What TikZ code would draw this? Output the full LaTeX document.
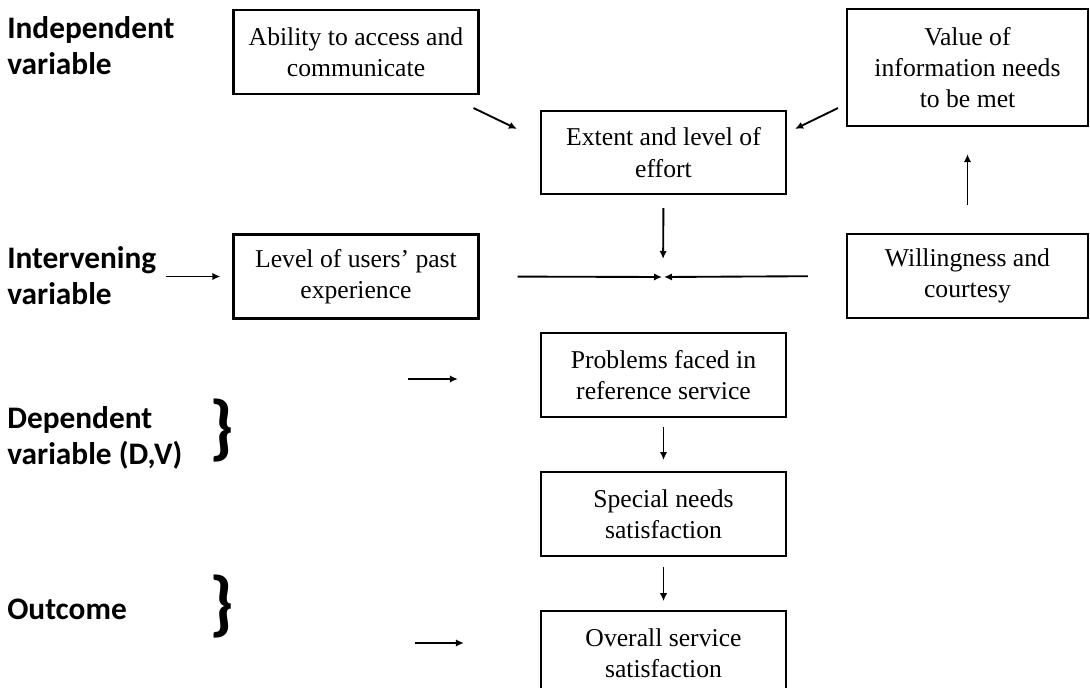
\documentclass[tikz,border=0pt]{standalone}
\usepackage{fontspec}
\setmainfont{Liberation Serif}
\newfontfamily\labelfont{Carlito}
\usetikzlibrary{arrows.meta, positioning, calc}

\begin{document}
\begin{tikzpicture}[
    x=0.75pt, y=-0.75pt,
    node distance=39.75pt,
    box/.style={
      rectangle,
      draw,
      line width=1.6pt,
      minimum width=183.75pt,
      minimum height=63pt,
      inner sep=2pt,
      align=center,
      font=\fontsize{19.25}{23.5}\selectfont
    },
    varlabel/.style={
      anchor=north west,
      inner sep=0pt,
      align=left,
      font=\labelfont\bfseries\fontsize{23.5}{27}\selectfont
    },
    bracket/.style={
      inner sep=0pt,
      font=\labelfont\bfseries\fontsize{54}{54}\selectfont
    },
    arrow/.style={
      -{Latex[length=6pt,width=5.5pt]},
      line width=1.4pt
    }
  ]
  \useasboundingbox (0,0) rectangle (1090,688);

  % Nodes
  \node[box] (ability) at (356,52) {Ability to access and\\communicate};
  \node[box, minimum height=62.25pt] (extent) at (663.5,152.5) {Extent and level of\\effort};
  \node[box, minimum width=180.75pt, minimum height=87.75pt] (value) at (967.5,67.5) {Value of\\information needs\\to be met};
  \node[box] (level) at (356,276.5) {Level of users' past\\experience};
  \node[box, minimum width=180.75pt] (willing) at (967.5,276) {Willingness and\\courtesy};
  \node[box] (problems) at (663.5,375) {Problems faced in\\reference service};
  \node[box, below=of problems] (special) {Special needs\\satisfaction};
  \node[box, below=of special] (overall) {Overall service\\satisfaction};
  \coordinate (meet) at (663,277);

  % Variable labels
  \node[varlabel] (indep) at (7,16) {Independent\\variable};
  \node[varlabel] (interv) at (7,246) {Intervening\\variable};
  \node[varlabel] (dep) at (7,406) {Dependent\\variable (D,V)};
  \node[varlabel] (outc) at (7,599) {Outcome};
  \node[bracket] (depbrace) at (222,431) {\}};
  \node[bracket] (outcbrace) at (222,607) {\}};
  \coordinate (dvarrow) at (408,379);
  \coordinate (ocarrow) at (415,643);

  % Arrows
  \draw[arrow] ([shift={(-6,13)}]ability.south east) -- ([shift={(-23,19)}]extent.north west);
  \draw[arrow] ([shift={(-8,-19)}]value.south west) -- ([shift={(8,19)}]extent.north east);
  \draw[arrow, shorten <=21pt, shorten >=20.25pt] (willing.north) -- (value.south);
  \draw[arrow, shorten <=9.75pt, shorten >=13.5pt] (extent.south) -- (meet);
  \draw[arrow, shorten <=28.5pt, shorten >=0.75pt] (level.east) -- (meet);
  \draw[arrow, shorten <=28.5pt, shorten >=0.75pt] (willing.west) -- (meet);
  \draw[arrow, shorten <=6.75pt, shorten >=9pt] (interv.east |- level.west) -- (level.west);
  \draw[arrow, shorten >=61.5pt] (dvarrow) -- (dvarrow -| problems.west);
  \draw[arrow, shorten <=6.75pt, shorten >=8.25pt] (problems) -- (special);
  \draw[arrow, shorten <=7.5pt, shorten >=6.75pt] (special) -- (overall);
  \draw[arrow, shorten >=57pt] (ocarrow) -- (ocarrow -| overall.west);

\end{tikzpicture}
\end{document}
